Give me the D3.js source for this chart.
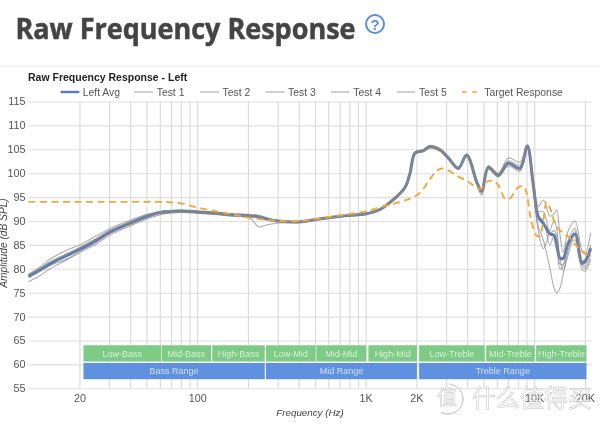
<!DOCTYPE html>
<html><head><meta charset="utf-8">
<script src="https://cdnjs.cloudflare.com/ajax/libs/d3/7.8.5/d3.min.js"></script>
<style>html,body{margin:0;background:#fff;overflow:hidden}svg{display:block;filter:blur(.35px)}text{font-family:"Liberation Sans",Arial,sans-serif}</style>
</head><body><svg id="c" width="600" height="424"></svg>
<script>
const freq=[9.9,11.6,13,15,17,20,25,30,40,50,60,70,80,100,130,160,200,230,260,300,400,500,700,1000,1207,1442,1699,1820,1948,2182,2391,2742,3070,3520,3947,4527,4847,5303,6081,6971,8180,9040,9810,10500,11250,12330,13020,13500,14130,14780,15830,17350,19010,19880,21490];
const leftAvg=[78.4,79.8,80.8,82,82.9,84.1,85.9,87.6,89.6,91,91.8,92,92.1,91.9,91.6,91.3,91.1,90.9,90.4,90,89.8,90.3,91,91.5,92.4,94.4,97,100,104.2,104.7,105.6,104.9,103.2,101,103.8,98.2,96.2,101.2,99.6,102.1,101,105.7,97.5,90.9,89.5,87.3,87,85,82.2,82.2,85.4,87.3,81.2,81.5,84.3];
const test1=[77.3,78.6,79.8,81,82,83.4,85.2,87,89,90.4,91.3,91.7,91.8,91.6,91.3,91,90.8,90.6,90.2,89.9,89.7,90.2,90.9,91.4,92.3,94.2,96.8,100,104,104.5,105.2,104.6,103,100.8,103.4,97.6,95.4,100.8,99.2,101.5,100.4,105.4,97,89,86,80,76,75,76,79,83,87,81,80,83];
const test2=[78.9,80.4,81.8,83.1,84,85,86.9,88.4,90.2,91.4,92,92.2,92.3,92.1,91.8,91.5,91.4,91.2,90.6,90.1,89.9,90.4,91.1,91.6,92.5,94.6,97.3,100.4,104.5,104.9,105.8,105.1,103.5,101.3,104,98.6,96.6,101.6,100,103.2,102.3,105.9,99,93,94.4,91,91.5,92.3,87,83.5,88,90,84,83,87.5];
const test3=[78.1,79.4,80.5,81.4,82.2,83.6,85.6,87.4,89.3,90.7,91.5,91.8,91.9,91.7,91.4,91.1,91,88.8,89.2,89.6,89.7,90.2,90.9,91.4,92.3,94.3,96.9,99.8,104,104.6,105.4,104.8,103.1,100.9,103.6,97.8,95.8,101,99.3,101.8,100.7,105.5,96.5,88,84.2,88,90,88.4,82,79.5,84,88,80,79.5,82];
const test4=[78.6,80,81.3,82.4,83.3,84.5,86.4,88.1,89.9,91.2,91.9,92.1,92.2,92,91.7,91.4,91.2,91,90.5,90,89.8,90.3,91,91.5,92.4,94.4,97.1,100.1,104.3,104.8,105.6,104.9,103.2,101,103.8,98.4,96.2,101.4,99.8,102.6,101.6,105.7,98,92,92,87.5,88,87,81,81,86,88.5,82,80.5,85];
const test5=[78.7,80.1,81.2,82.2,83.1,84.3,86.2,87.9,89.7,91.1,91.8,92,92.1,91.9,91.6,91.3,91.1,90.9,90.4,90,89.8,90.3,91,91.5,92.4,94.5,97,100,104.2,104.7,105.5,104.9,103.3,101.1,103.8,98,96,101.1,99.6,102,101,105.7,97.8,91,90,85,87,85.5,80,80.5,85,86,81.5,82,84.5];
const targetFreq=[9.9,20,40,60,70,80,100,130,160,200,260,300,400,500,700,1000,1207,1517,1820,2038,2233,2447,2742,2935,3520,4036,4626,4847,5189,5680,6081,6663,7136,7820,8554,8965,9380,9810,10280,10750,11250,11780,12330,13510,16200,18570,21290];
const targetVals=[94,94,94,94,93.9,93.7,92.8,92,91.4,90.7,90.2,90,90,90.4,91.2,92,92.9,93.8,94.7,95.6,97.2,99.3,100.9,100.9,99.3,98.2,96.8,96.8,98.2,98.4,97.5,94.7,94.7,96.8,97.3,95.8,91.3,88.5,86.9,86.9,90.2,94,92.7,88.8,86.4,84,82.7];
const yTicks=[55,60,65,70,75,80,85,90,95,100,105,110,115];
const xGrid=[20,30,40,50,60,70,80,90,100,200,300,400,500,600,700,800,900,1000,2000,3000,4000,5000,6000,7000,8000,9000,10000,20000];
const xTickVals=[20,100,1000,2000,10000,20000];
const xTickText=["20","100","1K","2K","10K","20K"];
const subBands=["Low-Bass","Mid-Bass","High-Bass","Low-Mid","Mid-Mid","High-Mid","Low-Treble","Mid-Treble","High-Treble"];
const subEdges=[[21,60.5],[61,120],[122,250],[254,500],[506,1000],[1030,2000],[2060,5050],[5150,10000],[10200,20300]];
const mainBands=["Bass Range","Mid Range","Treble Range"];
const mainEdges=[[21,250],[254,2000],[2060,20300]];
const legendNames=["Left Avg","Test 1","Test 2","Test 3","Test 4","Test 5","Target Response"];
const pageTitle="Raw Frequency Response";
const chartTitle="Raw Frequency Response - Left";

const svg=d3.select("#c");
const x=d3.scaleLog().domain([Math.pow(10,2-(197.7-28.5)/168.5),Math.pow(10,2+(591.7-197.7)/168.5)]).range([28.5,591.7]);
const y=d3.scaleLinear().domain([55,115]).range([388.3,101.5]);
const blue="#5a79b8", orange="#efa93a";

svg.append("rect").attr("x",0).attr("y",65.5).attr("width",600).attr("height",2).attr("fill","#f5f5f5");
svg.append("text").attr("x",15.5).attr("y",39).attr("font-size",28).attr("font-weight",700).style("font-family",'"Open Sans",sans-serif').attr("fill","#444").attr("stroke","#444").attr("stroke-width",.5).attr("textLength",340).attr("lengthAdjust","spacingAndGlyphs").text(pageTitle);
svg.append("circle").attr("cx",375).attr("cy",24).attr("r",9).attr("fill","none").attr("stroke","#5b8dd9").attr("stroke-width",2);
svg.append("text").attr("x",375).attr("y",29.5).attr("text-anchor","middle").attr("font-size",15).attr("font-weight",700).attr("fill","#5b8dd9").text("?");
svg.append("text").attr("x",28).attr("y",81).attr("font-size",10.5).attr("font-weight",700).attr("fill","#222").text(chartTitle);

// grid
svg.append("g").call(d3.axisLeft(y).tickValues(yTicks).tickSize(-(591.7-28.5)).tickPadding(3))
 .attr("transform","translate(28.5,0)").call(g=>{g.select(".domain").remove();
 g.selectAll("line").attr("stroke","#e0e0e0").attr("stroke-width",1.1);
 g.selectAll("text").attr("font-size",10.8).attr("fill","#555").attr("font-family","Liberation Sans");});
svg.append("g").selectAll("line").data(xGrid).join("line").attr("x1",d=>x(d)).attr("x2",d=>x(d))
 .attr("y1",y(115)).attr("y2",y(55)).attr("stroke","#d9d9d9").attr("stroke-width",1.1);
svg.append("g").selectAll("text").data(xTickVals).join("text").attr("x",d=>x(d)).attr("y",402).attr("text-anchor","middle")
 .attr("font-size",10.8).attr("fill","#555").text((d,i)=>xTickText[i]);

// bands
const bands=(names,edges,top,bot,col)=>{
 const g=svg.append("g").selectAll("g").data(names).join("g");
 g.append("rect").attr("x",(d,i)=>x(edges[i][0])).attr("width",(d,i)=>x(edges[i][1])-x(edges[i][0]))
  .attr("y",y(top)).attr("height",y(bot)-y(top)).attr("fill",col);
 g.append("text").attr("x",(d,i)=>(x(edges[i][0])+x(edges[i][1]))/2).attr("y",(y(top)+y(bot))/2+3.2)
  .attr("text-anchor","middle").attr("font-size",9).attr("fill","#fff").attr("fill-opacity",.7).text(d=>d);
};
bands(subBands,subEdges,64,60.6,"#7dcb85");
bands(mainBands,mainEdges,60.3,56.9,"#5f91de");

// lines
const line=d3.line().x(d=>x(d[0])).y(d=>y(d[1])).curve(d3.curveCatmullRom.alpha(.5));
const ser=v=>freq.map((f,i)=>[f,v[i]]);
svg.append("path").attr("d",line(ser(leftAvg))).attr("fill","none").attr("stroke",blue).attr("stroke-width",3);
[test1,test2,test3,test4,test5].forEach(t=>svg.append("path").attr("d",line(ser(t))).attr("fill","none").attr("stroke","#888").attr("stroke-opacity",.7).attr("stroke-width",1.05));
svg.append("path").attr("d",line(targetFreq.map((f,i)=>[f,targetVals[i]]))).attr("fill","none").attr("stroke",orange).attr("stroke-width",1.9).attr("stroke-dasharray","7 4.5");

// legend
const legX=[60.7,134,200,265.5,331,396.7,462], legT=[82.7,156.7,222.5,288,353.3,419,484.3], legW=[18.6,19,19,19,18.5,18.5,15];
const lg=svg.append("g").selectAll("g").data(legendNames).join("g");
lg.append("line").attr("x1",(d,i)=>legX[i]).attr("x2",(d,i)=>legX[i]+legW[i]).attr("y1",92).attr("y2",92)
 .attr("stroke",(d,i)=>i==0?blue:i==6?orange:"#bbb").attr("stroke-width",(d,i)=>i==0?2.4:i==6?1.7:1.4).attr("stroke-dasharray",(d,i)=>i==6?"5 5":null);
lg.append("text").attr("x",(d,i)=>legT[i]).attr("y",96).attr("font-size",10.4).attr("fill","#555").text(d=>d);

// axis titles
svg.append("text").attr("x",310).attr("y",416).attr("text-anchor","middle").attr("font-size",9.8).attr("font-style","italic").attr("fill","#444").text("Frequency (Hz)");
svg.append("text").attr("transform","translate(7,243) rotate(-90)").attr("text-anchor","middle").attr("font-size",10.2).attr("font-style","italic").attr("fill","#444").text("Amplitude (dB SPL)");

// watermark
const wm=svg.append("g").attr("fill","#fff").attr("fill-opacity",.7).attr("stroke","#bbb").attr("stroke-width",.45);
wm.append("path").attr("d",d3.arc()({innerRadius:15,outerRadius:15,startAngle:0.1,endAngle:3.6})).attr("transform","translate(448,399)").attr("stroke","#ccc").attr("stroke-width",1);
wm.append("text").attr("x",447).attr("y",405).attr("text-anchor","middle").attr("font-size",20).style("font-family",'"Noto Sans CJK SC"').text("值");
wm.append("text").attr("x",472).attr("y",407).attr("font-size",24).style("font-family",'"Noto Sans CJK SC"').text("什么值得买");
</script></body></html>
